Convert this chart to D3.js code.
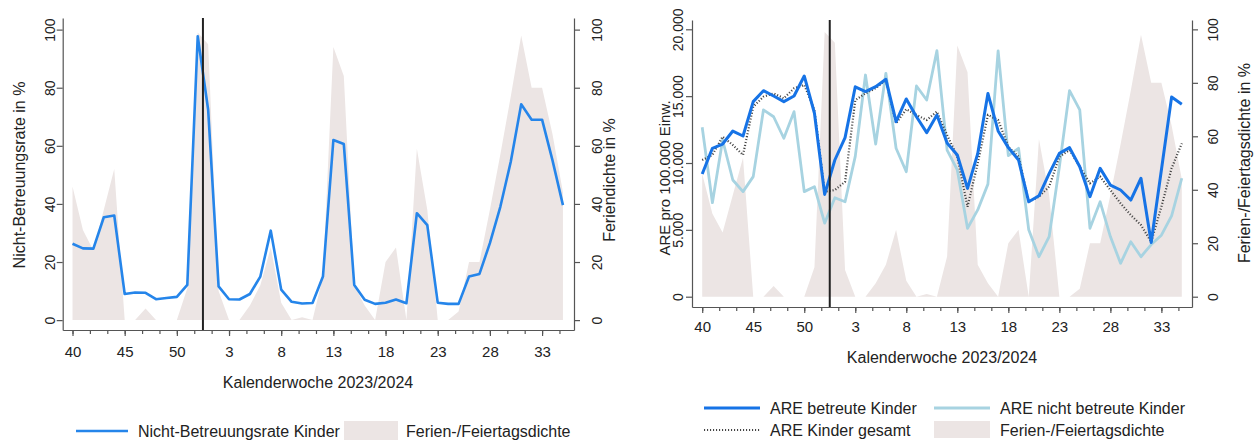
<!DOCTYPE html>
<html>
<head>
<meta charset="utf-8">
<script src="https://cdn.jsdelivr.net/npm/d3@7"></script>
<style>
  html, body { margin: 0; padding: 0; background: #fff; }
  svg { display: block; }
  text { font-family: "Liberation Sans", Arial, sans-serif; fill: #222; }
</style>
</head>
<body>
<svg id="chart" width="1258" height="440"></svg>
<script>
// ---------- DATA ----------
const weeks = [40,41,42,43,44,45,46,47,48,49,50,51,52,1,2,3,4,5,6,7,8,9,10,11,12,13,14,15,16,17,18,19,20,21,22,23,24,25,26,27,28,29,30,31,32,33,34,35];
const xTickLabels = ["40","45","50","3","8","13","18","23","28","33"];
const yTicksPct = [0,20,40,60,80,100];
const yTicksAre = [0,5000,10000,15000,20000];
const yTickLabelsAre = ["0","5.000","10.000","15.000","20.000"];

// Nicht-Betreuungsrate Kinder (%)
const nichtBetreuung = [26.3,24.7,24.6,35.4,36.0,9.0,9.5,9.4,7.2,7.6,8.0,12.1,97.7,72.4,11.6,7.2,7.1,9.0,15.0,30.8,10.5,6.3,5.7,5.9,15.0,62.0,60.6,12.1,7.0,5.6,6.0,7.1,5.8,36.8,32.7,6.0,5.6,5.6,15.0,15.9,26.5,39.0,54.5,74.3,69.0,69.0,55.0,39.6];
// Ferien-/Feiertagsdichte (%)
const ferien = [46,31,24,38,52,0,0,4,0,0,0,11,99,95,10,0,0,5,12,25,6,0,1,0,15,94,84,12,5,0,20,25,0,59,38,0,0,3,20,20,38,57,77,98,80,80,64,44];
// ARE pro 100.000 Einw.
const areBetreut = [9180,11100,11420,12390,12020,14590,15410,15010,14590,15010,16510,13720,7650,10225,11900,15700,15340,15710,16260,13090,14790,13460,12270,13590,11500,10600,8100,10700,15200,12400,11150,10225,7100,7550,9200,10720,11150,9720,7480,9600,8350,7980,7230,8860,4050,9480,14930,14400];
const areNichtBetreut = [12670,7030,11720,8730,7860,8980,13970,13460,11850,13840,7860,8230,5500,7400,7100,10500,16580,11420,16710,11100,9350,15760,14710,18400,10970,9480,5120,6490,8420,18380,10550,11100,5000,2990,4490,9700,15420,13970,5120,7100,4500,2500,4110,2990,3900,4600,6050,8860];
const areGesamt = [10225,10600,11970,11350,10600,14210,14960,15210,14840,15590,15840,13970,7850,7980,8600,14700,15210,15590,16210,12970,14020,13590,13220,13840,12090,10470,6730,9980,13590,13220,11220,10470,7100,7480,8230,10470,10970,9720,8480,8980,7980,6990,6110,5360,4100,6730,9600,11470];

const cutIndex = 12.5; // Jahreswechsel 2023/2024

// ---------- STYLE ----------
const C = {
  area: "#ece5e4",
  blueL: "#2585ea",
  blueR: "#1673e6",
  light: "#a7d3e1",
  dotted: "#444",
  axis: "#555",
  cut: "#222"
};

const svg = d3.select("#chart");
const majorIdx = xTickLabels.map((d, i) => i * 5);
const minorIdx = d3.range(0, 29).map(k => k * 5 / 3).filter(v => v <= 47);

function xAxes(g, x, y0, pad) {
  const maj = d3.axisBottom(x).tickValues(majorIdx).tickFormat((d, i) => xTickLabels[i]).tickSize(6).tickSizeOuter(0).tickPadding(pad);
  const gm = g.append("g").attr("transform", `translate(0,${y0})`).call(maj);
  const mn = d3.axisBottom(x).tickValues(minorIdx).tickFormat("").tickSize(4).tickSizeOuter(0);
  const gn = g.append("g").attr("transform", `translate(0,${y0})`).call(mn);
  gn.select(".domain").remove();
  [gm, gn].forEach(s => { s.selectAll("path,line").attr("stroke", C.axis).attr("stroke-width", 1.2); });
  gm.selectAll("text").attr("font-size", 15).attr("fill", "#222").attr("font-family", "Liberation Sans, Arial, sans-serif");
}

function yAxis(g, y, xPos, side, values, labels, off) {
  const ax = (side === "left" ? d3.axisLeft(y) : d3.axisRight(y)).tickValues(values).tickSize(6).tickSizeOuter(0).tickFormat((d, i) => labels[i]);
  const ga = g.append("g").attr("transform", `translate(${xPos},0)`).call(ax);
  ga.selectAll("path,line").attr("stroke", C.axis).attr("stroke-width", 1.2);
  ga.selectAll("text")
    .attr("x", null).attr("dy", null)
    .attr("text-anchor", "middle")
    .attr("transform", `translate(${off},0) rotate(-90)`)
    .attr("font-size", 14).attr("fill", "#222").attr("font-family", "Liberation Sans, Arial, sans-serif");
}

function vTitle(g, xb, yc, txt, fs) {
  g.append("text").attr("transform", `translate(${xb},${yc}) rotate(-90)`)
    .attr("text-anchor", "middle").attr("font-size", fs || 16).text(txt);
}

// ================= LEFT PANEL =================
{
  const g = svg.append("g");
  const x = d3.scaleLinear().domain([-0.94, 48.06]).range([62.7, 574]);
  const y = d3.scaleLinear().domain([-3.4, 104]).range([330, 18]);

  const area = d3.area().x((d, i) => x(i)).y0(y(0)).y1(d => y(d));
  g.append("path").datum(ferien).attr("d", area).attr("fill", C.area);

  const line = d3.line().x((d, i) => x(i)).y(d => y(d));
  g.append("path").datum(nichtBetreuung).attr("d", line)
    .attr("fill", "none").attr("stroke", C.blueL).attr("stroke-width", 2.6).attr("stroke-linejoin", "round");

  g.append("line").attr("x1", x(cutIndex)).attr("x2", x(cutIndex)).attr("y1", 18).attr("y2", 331)
    .attr("stroke", C.cut).attr("stroke-width", 2);

  xAxes(g, x, 330, 10);
  yAxis(g, y, 62.7, "left", yTicksPct, yTicksPct.map(String), -8);
  yAxis(g, y, 574, "right", yTicksPct, yTicksPct.map(String), 28);

  vTitle(g, 25, 175, "Nicht-Betreuungsrate in %");
  vTitle(g, 615, 180, "Feriendichte in %");
  g.append("text").attr("x", 318).attr("y", 388).attr("text-anchor", "middle").attr("font-size", 16).text("Kalenderwoche 2023/2024");

  // legend
  g.append("line").attr("x1", 76).attr("x2", 128).attr("y1", 431).attr("y2", 431).attr("stroke", C.blueL).attr("stroke-width", 2.6);
  g.append("text").attr("x", 138).attr("y", 437).attr("font-size", 16).text("Nicht-Betreuungsrate Kinder");
  g.append("rect").attr("x", 344).attr("y", 421).attr("width", 54).attr("height", 21).attr("fill", C.area);
  g.append("text").attr("x", 406).attr("y", 437).attr("font-size", 16).text("Ferien-/Feiertagsdichte");
}

// ================= RIGHT PANEL =================
{
  const g = svg.append("g");
  const x = d3.scaleLinear().domain([-1.0, 48.0]).range([692, 1192]);
  const yL = d3.scaleLinear().domain([-770, 20696]).range([307, 20]);
  const yR = d3.scaleLinear().domain([-3.85, 103.5]).range([307, 20]);

  const area = d3.area().x((d, i) => x(i)).y0(yR(0)).y1(d => yR(d));
  g.append("path").datum(ferien).attr("d", area).attr("fill", C.area);

  const line = d3.line().x((d, i) => x(i)).y(d => yL(d));
  g.append("path").datum(areNichtBetreut).attr("d", line)
    .attr("fill", "none").attr("stroke", C.light).attr("stroke-width", 2.8).attr("stroke-linejoin", "round");
  g.append("path").datum(areGesamt).attr("d", line)
    .attr("fill", "none").attr("stroke", C.dotted).attr("stroke-width", 2.2).attr("stroke-dasharray", "1.1,1.9");
  g.append("path").datum(areBetreut).attr("d", line)
    .attr("fill", "none").attr("stroke", C.blueR).attr("stroke-width", 3).attr("stroke-linejoin", "round");

  g.append("line").attr("x1", x(cutIndex)).attr("x2", x(cutIndex)).attr("y1", 20).attr("y2", 307)
    .attr("stroke", C.cut).attr("stroke-width", 2);

  xAxes(g, x, 307, 8.5);
  yAxis(g, yL, 692, "left", yTicksAre, yTickLabelsAre, -9);
  yAxis(g, yR, 1192, "right", yTicksPct, yTicksPct.map(String), 26);

  vTitle(g, 670, 178, "ARE pro 100.000 Einw.", 15);
  vTitle(g, 1250, 163, "Ferien-/Feiertagsdichte in %");
  g.append("text").attr("x", 942).attr("y", 363).attr("text-anchor", "middle").attr("font-size", 16).text("Kalenderwoche 2023/2024");

  // legend
  g.append("line").attr("x1", 704).attr("x2", 760).attr("y1", 408).attr("y2", 408).attr("stroke", C.blueR).attr("stroke-width", 3);
  g.append("text").attr("x", 770).attr("y", 414).attr("font-size", 16).text("ARE betreute Kinder");
  g.append("line").attr("x1", 934).attr("x2", 990).attr("y1", 408).attr("y2", 408).attr("stroke", C.light).attr("stroke-width", 2.8);
  g.append("text").attr("x", 1000).attr("y", 414).attr("font-size", 16).text("ARE nicht betreute Kinder");
  g.append("line").attr("x1", 704).attr("x2", 760).attr("y1", 430).attr("y2", 430).attr("stroke", C.dotted).attr("stroke-width", 2.2).attr("stroke-dasharray", "1.1,1.9");
  g.append("text").attr("x", 770).attr("y", 436).attr("font-size", 16).text("ARE Kinder gesamt");
  g.append("rect").attr("x", 934).attr("y", 421).attr("width", 56).attr("height", 17).attr("fill", C.area);
  g.append("text").attr("x", 1000).attr("y", 436).attr("font-size", 16).text("Ferien-/Feiertagsdichte");
}
</script>
</body>
</html>
